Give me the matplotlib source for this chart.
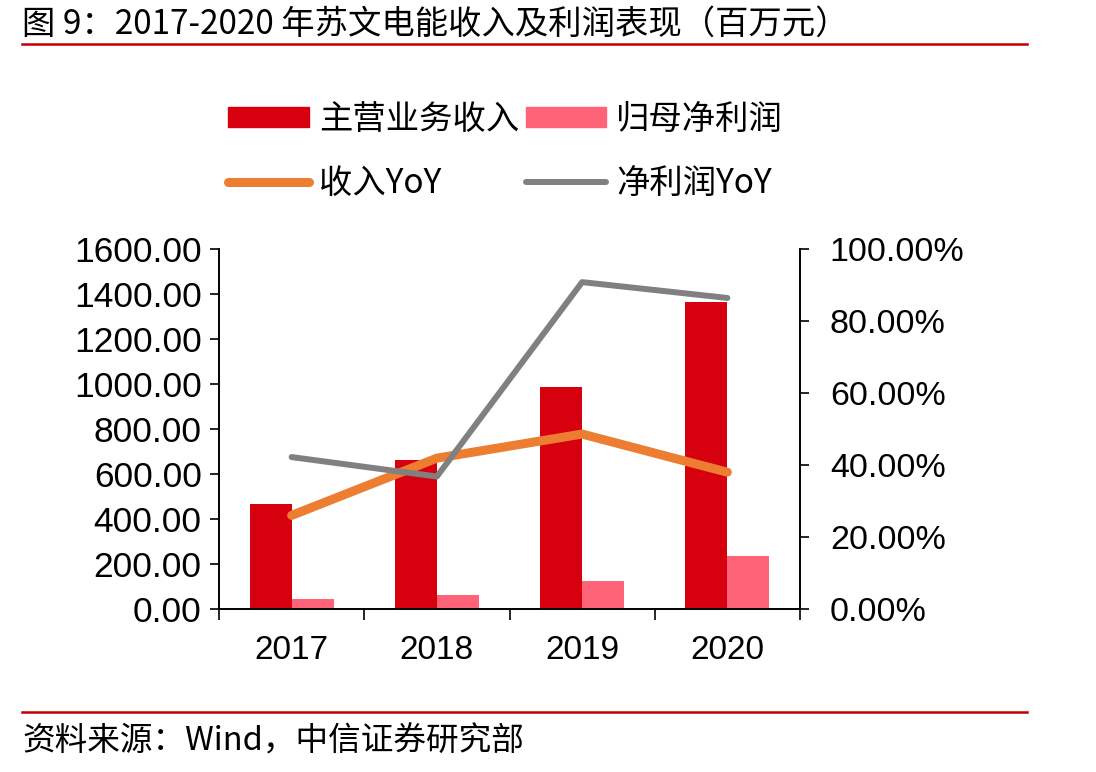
import numpy as np
import matplotlib
matplotlib.use("Agg")
import matplotlib.pyplot as plt
from matplotlib.lines import Line2D
from matplotlib.patches import Patch
import matplotlib.ticker as mtick

plt.rcParams['font.family'] = ['Liberation Sans', 'Noto Sans CJK SC', 'DejaVu Sans']
cjk = ['Noto Sans CJK SC', 'DejaVu Sans']

years = ['2017', '2018', '2019', '2020']
revenue = [467, 663, 987, 1366]
net_profit = [44, 62, 123, 234]
revenue_yoy = [26.0, 41.9, 48.6, 38.0]
profit_yoy = [42.2, 36.8, 90.8, 86.4]

red = '#D7000F'
pink = '#FF6378'
orange = '#ED7D31'
grey = '#808080'

fig = plt.figure(figsize=(10.96, 7.72), dpi=100)
ax = fig.add_axes([219/1096, 1 - 609/772, (800-219)/1096, (609-249)/772])
ax2 = ax.twinx()

x = np.arange(len(years))
w = 0.29
ax.bar(x - w/2, revenue, width=w, color=red, label='主营业务收入')
ax.bar(x + w/2, net_profit, width=w, color=pink, label='归母净利润')
ax2.plot(x, revenue_yoy, color=orange, lw=6.5, solid_capstyle='round', label='收入YoY')
ax2.plot(x, profit_yoy, color=grey, lw=4.3, solid_capstyle='round', label='净利润YoY')

ax.set_xlim(-0.5, 3.5)
ax.set_ylim(0, 1600)
ax2.set_ylim(0, 100)
ax.set_yticks(np.arange(0, 1601, 200))
ax.yaxis.set_major_formatter(mtick.FormatStrFormatter('%.2f'))
ax2.set_yticks(np.arange(0, 101, 20))
ax2.yaxis.set_major_formatter(mtick.FormatStrFormatter('%.2f%%'))

ax.set_xticks(x)
ax.set_xticklabels(years)
ax.set_xticks(np.arange(-0.5, 4, 1), minor=True)
ax.tick_params(axis='x', which='major', length=0, labelsize=24, pad=19)
ax.tick_params(axis='x', which='minor', length=8, width=1.2, direction='out')
ax.tick_params(axis='y', length=6.5, width=1.2, labelsize=25.5, pad=6)
ax2.tick_params(axis='y', length=6.5, width=1.2, labelsize=24.5, pad=15)

for a in (ax, ax2):
    a.spines['top'].set_visible(False)
    for s in ('left', 'right', 'bottom'):
        a.spines[s].set_linewidth(1.2)

handles = [Patch(color=red), Line2D([], [], color=orange, lw=6.5, solid_capstyle='round'),
           Patch(color=pink), Line2D([], [], color=grey, lw=4.3, solid_capstyle='round')]
labels = ['主营业务收入', '收入YoY', '归母净利润', '净利润YoY']
leg = fig.legend(handles, labels, ncol=2, loc='upper left', bbox_to_anchor=(198/1096, 1 - 72/772),
                 frameon=False, prop={'family': cjk, 'size': 24}, handlelength=2.42, handleheight=0.55,
                 handletextpad=0.3, columnspacing=0.2, labelspacing=0.86)

fig.text(22/1096, 1 - 24/772, '图 9：2017-2020 年苏文电能收入及利润表现（百万元）', family=cjk,
         fontsize=24, va='center', ha='left')
fig.add_artist(Line2D([22/1096, 1027/1096], [1 - 44/772, 1 - 44/772], color='#C00000', lw=1.8))
fig.add_artist(Line2D([22/1096, 1027/1096], [1 - 712/772, 1 - 712/772], color='#C00000', lw=1.8))
fig.text(22/1096, 1 - 742/772, '资料来源：Wind，中信证券研究部', family=cjk,
         fontsize=23.5, va='center', ha='left')

fig.savefig('out.png', dpi=100)
